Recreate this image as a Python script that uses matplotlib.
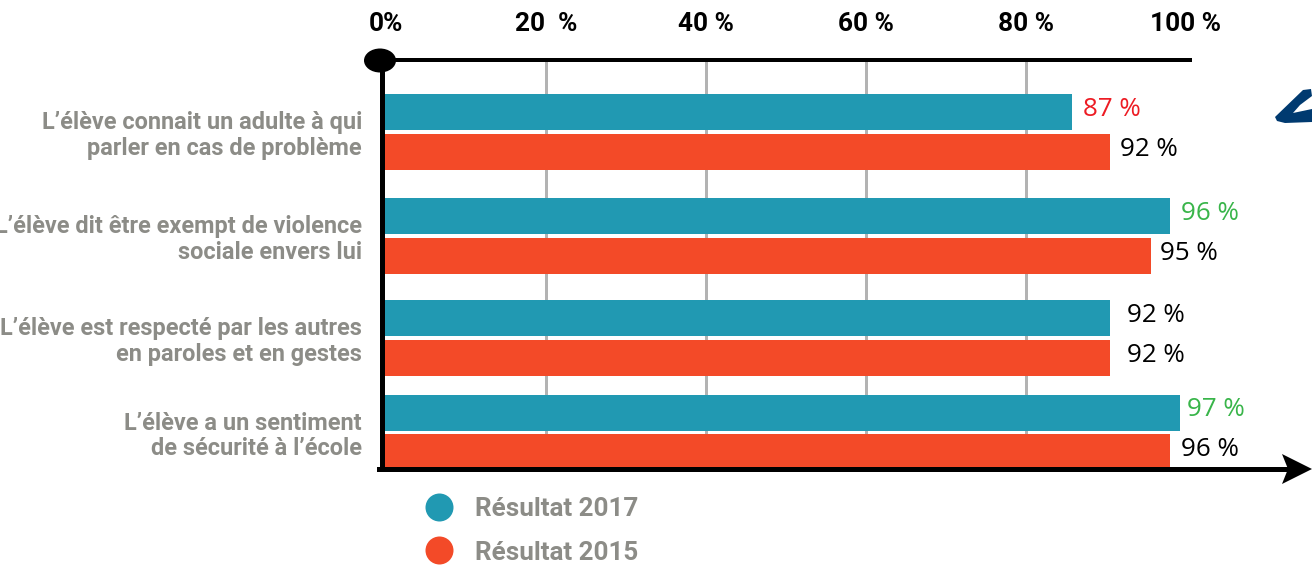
import matplotlib
matplotlib.use("Agg")
import matplotlib.pyplot as plt
from matplotlib.lines import Line2D
from matplotlib.patches import Ellipse, Polygon
from matplotlib import font_manager as fm

names = {f.name for f in fm.fontManager.ttflist}
NARROW = 'Liberation Sans Narrow' if 'Liberation Sans Narrow' in names else 'Roboto'
print(NARROW)

categories = ["L’élève connait un adulte à qui\nparler en cas de problème",
              "L’élève dit être exempt de violence\nsociale envers lui",
              "L’élève est respecté par les autres\nen paroles et en gestes",
              "L’élève a un sentiment\nde sécurité à l’école"]
series_2017 = [85.75, 98.0, 90.5, 99.2]
series_2015 = [90.5, 95.6, 90.5, 98.0]
labels_2017 = ["87 %", "96 %", "92 %", "97 %"]
labels_2015 = ["92 %", "95 %", "92 %", "96 %"]
label_colors_2017 = ["#ed1c24", "#39b54a", "#000000", "#39b54a"]
ticks = [0, 20, 40, 60, 80, 100]
tick_labels = ["0%", "20  %", "40 %", "60 %", "80 %", "100 %"]
legend_names = ["Résultat 2017", "Résultat 2015"]

W, H = 1312, 580
TEAL, ORANGE, GRAY = "#2199b2", "#f34a28", "#8c8c87"
px = 0.72  # points per pixel at dpi 100

fig = plt.figure(figsize=(W/100, H/100), dpi=100, facecolor="white")
L, R, T, B = 381.5, 1190, 60, 469
ax = fig.add_axes([L/W, 1-B/H, (R-L)/W, (B-T)/H])
x_of = lambda p: (p-386)/8
ax.set_xlim(x_of(L), x_of(R))
ax.set_ylim(B, T)  # vertical axis expressed in layout pixels

# layout: centres of each bar
y17 = [112, 216, 318, 413]
y15 = [152, 256, 358, 452]
bar_h = 36
x0 = x_of(384)

ax.vlines(ticks[1:-1], T, B, color="#b3b3b3", lw=3*px, zorder=1)
ax.barh(y17, [v-x0 for v in series_2017], left=x0, height=bar_h, color=TEAL, zorder=2)
ax.barh(y15, [v-x0 for v in series_2015], left=x0, height=bar_h, color=ORANGE, zorder=2)

for s in ["right", "bottom"]:
    ax.spines[s].set_visible(False)
for s in ["left", "top"]:
    ax.spines[s].set_linewidth(5*px)
    ax.spines[s].set_color("black")
ax.spines["top"].set_linewidth(4*px)
ax.spines["left"].set_zorder(4)

ax.xaxis.tick_top()
ax.set_xticks(ticks)
ax.set_xticklabels(tick_labels, family=NARROW, weight="bold", fontsize=25*px*1.05, color="black")
ax.tick_params(axis="x", length=0, pad=17)
ax.set_yticks([(a+b)/2 for a, b in zip(y17, y15)])
ax.set_yticklabels(categories, family=NARROW, weight="bold", fontsize=23.5*px, color=GRAY,
                   linespacing=1.12, ha="right")
ax.tick_params(axis="y", length=0, pad=14)

label_x17 = [1083, 1181, 1127, 1187]
label_x15 = [1120, 1160, 1127, 1181]
vfont = dict(family="Open Sans", fontsize=26*px, va="center", ha="left")
for y, txt, c, xp in zip(y17, labels_2017, label_colors_2017, label_x17):
    ax.text(x_of(xp), y-3, txt, color=c, zorder=5, clip_on=False, **vfont)
for y, txt, xp in zip(y15, labels_2015, label_x15):
    ax.text(x_of(xp), y-3, txt, color="black", zorder=5, clip_on=False, **vfont)

def fx(p): return p/W
def fy(p): return 1-p/H
# overlays in figure coordinates
over = fig.transFigure
fig.add_artist(Line2D([fx(379), fx(1290)], [fy(469)]*2, color="black", lw=5*px))
fig.add_artist(Polygon([(fx(1282), fy(454)), (fx(1312), fy(469)), (fx(1282), fy(484)), (fx(1288), fy(469))],
                       closed=True, fc="black", ec="none", transform=over))
fig.add_artist(Ellipse((fx(380), fy(60.5)), 32/W, 24/H, fc="black", ec="none", transform=over))
fig.add_artist(Polygon([(fx(1275), fy(117)), (fx(1303), fy(90)), (fx(1311), fy(89)), (fx(1312), fy(96)),
                        (fx(1300), fy(105)), (fx(1293), fy(113)), (fx(1312), fy(109)), (fx(1312), fy(122)),
                        (fx(1285), fy(123)), (fx(1277), fy(121))],
                       closed=True, fc="#003a70", ec="none", transform=over))

handles = [Line2D([], [], ls="", marker="o", ms=28*px, mfc=TEAL, mec="none"),
           Line2D([], [], ls="", marker="o", ms=28*px, mfc=ORANGE, mec="none")]
leg = fig.legend(handles, legend_names, loc="upper left", bbox_to_anchor=(418/W, 1-497/H),
                 frameon=False, handletextpad=0.6, labelspacing=0.75, borderpad=0, borderaxespad=0,
                 prop=fm.FontProperties(family=NARROW, weight="bold", size=26*px), handlelength=1.6)
for t in leg.get_texts():
    t.set_color(GRAY)

fig.savefig("out.png", dpi=100)
